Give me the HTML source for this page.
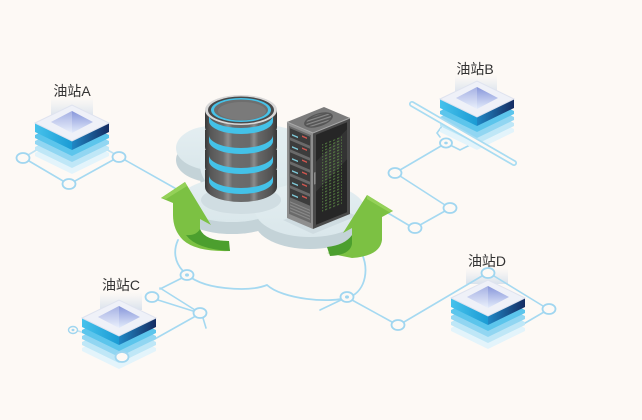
<!DOCTYPE html>
<html>
<head>
<meta charset="utf-8">
<style>
html,body{margin:0;padding:0;background:#fdf9f5;}
svg{display:block;}
</style>
</head>
<body>
<svg width="642" height="420" viewBox="0 0 642 420" xmlns="http://www.w3.org/2000/svg">
<defs>
  <linearGradient id="stL" x1="0" y1="0" x2="1" y2="0">
    <stop offset="0" stop-color="#46c2ec"/>
    <stop offset="1" stop-color="#1b9bd4"/>
  </linearGradient>
  <linearGradient id="stR" x1="0" y1="0" x2="1" y2="0">
    <stop offset="0" stop-color="#2088c6"/>
    <stop offset="1" stop-color="#152c62"/>
  </linearGradient>
  <linearGradient id="inner" x1="0" y1="0" x2="0" y2="1">
    <stop offset="0" stop-color="#8796da"/>
    <stop offset="1" stop-color="#e3ebfb"/>
  </linearGradient>
  <linearGradient id="lbg" x1="0" y1="0" x2="0" y2="1">
    <stop offset="0" stop-color="#e3e9f0" stop-opacity="0"/>
    <stop offset="1" stop-color="#d9e2ec" stop-opacity="1"/>
  </linearGradient>
  <linearGradient id="dbside" gradientUnits="userSpaceOnUse" x1="205" y1="0" x2="277" y2="0">
    <stop offset="0" stop-color="#383838"/>
    <stop offset="0.08" stop-color="#575757"/>
    <stop offset="0.25" stop-color="#6c6c6c"/>
    <stop offset="0.32" stop-color="#8e8e8e"/>
    <stop offset="0.38" stop-color="#6c6c6c"/>
    <stop offset="0.62" stop-color="#6a6a6a"/>
    <stop offset="0.68" stop-color="#8c8c8c"/>
    <stop offset="0.74" stop-color="#676767"/>
    <stop offset="0.92" stop-color="#525252"/>
    <stop offset="1" stop-color="#363636"/>
  </linearGradient>
  <linearGradient id="cloudTop" x1="0" y1="0" x2="0" y2="1">
    <stop offset="0" stop-color="#e4eef1"/>
    <stop offset="1" stop-color="#dae7eb"/>
  </linearGradient>
  <pattern id="gd" width="4" height="3" patternUnits="userSpaceOnUse">
    <rect width="2.2" height="1.3" fill="#6fb04f"/>
  </pattern>
  <pattern id="vent" width="3" height="3" patternUnits="userSpaceOnUse">
    <rect width="3" height="1.2" fill="#8a8a8a"/>
  </pattern>

  <g id="st">
    <!-- fading layers -->
    <polygon points="-37,30 0,12 37,30 37,33 0,51 -37,33" fill="#e3f4fb"/>
    <polygon points="-37,24 0,6 37,24 37,27 0,45 -37,27" fill="#bfe7f7"/>
    <polygon points="-37,18 0,0 37,18 37,21 0,39 -37,21" fill="#91d6f2"/>
    <polygon points="-37,12 0,-6 37,12 37,15 0,33 -37,15" fill="#5cc5ec"/>
    <!-- slab sides -->
    <polygon points="-37,0 0,18 0,27 -37,9" fill="url(#stL)"/>
    <polygon points="0,18 37,0 37,9 0,27" fill="url(#stR)"/>
    <!-- top face -->
    <polygon points="-37,0 0,-18 37,0 0,18" fill="#eff1f8"/>
    <polygon points="-37,0 0,-18 37,0 0,18" fill="none" stroke="#dfe3ef" stroke-width="1"/>
    <!-- inner diamond -->
    <polygon points="-21,-1 0,-12 21,-1 0,10" fill="url(#inner)"/>
    <polygon points="-21,-1 0,-12 0,10" fill="#ffffff" opacity="0.25"/>
  </g>
</defs>

<rect width="642" height="420" fill="#fdf9f5"/>

<!-- label backgrounds -->
<rect x="51" y="97" width="42" height="20" fill="url(#lbg)"/>
<rect x="455" y="75" width="42" height="18" fill="url(#lbg)"/>
<rect x="100" y="292" width="42" height="18" fill="url(#lbg)"/>
<rect x="466" y="268" width="42" height="16" fill="url(#lbg)"/>

<!-- network lines -->
<g stroke="#a5d9f1" stroke-width="1.6" fill="none" stroke-linecap="round">
  <!-- A -->
  <line x1="29" y1="161" x2="63" y2="181"/>
  <line x1="75" y1="181" x2="113" y2="160"/>
  <line x1="125" y1="160" x2="180" y2="191"/>
  <line x1="28" y1="155" x2="45" y2="145" opacity="0.7"/>
  <line x1="113" y1="153" x2="100" y2="146" opacity="0.7"/>
  <!-- cloud outline -->
  <path d="M178,240 C168,262 185,284 225,288 Q252,291 267,285 C282,299 330,304 350,297 C366,290 370,268 360,250" stroke-width="1.8"/>
  <!-- B -->
  <line x1="441" y1="146" x2="400" y2="170"/>
  <line x1="400" y1="176" x2="445" y2="205"/>
  <line x1="445" y1="211" x2="420" y2="225"/>
  <line x1="410" y1="226" x2="388" y2="213"/>
  <polyline points="442,126 437,133 440,137"/>
  <polyline points="452,146 460,150 472,144"/>
  <!-- C -->
  <line x1="182" y1="278" x2="160" y2="289"/>
  <line x1="160" y1="288" x2="195" y2="310"/>
  <line x1="203" y1="318" x2="206" y2="328"/>
  <line x1="158" y1="300" x2="193" y2="311"/>
  <line x1="194" y1="317" x2="128" y2="354"/>
  <line x1="78" y1="331" x2="92" y2="335" opacity="0.7"/>
  <!-- D -->
  <line x1="341" y1="300" x2="320" y2="310"/>
  <line x1="352" y1="300" x2="392" y2="322"/>
  <line x1="404" y1="322" x2="482" y2="276"/>
  <line x1="494" y1="276" x2="543" y2="306"/>
  <line x1="544" y1="312" x2="520" y2="326"/>
</g>

<!-- rings -->
<g stroke="#a0d6f0" stroke-width="1.8" fill="#fdf9f5">
  <ellipse cx="23" cy="158" rx="6.5" ry="5"/>
  <ellipse cx="69" cy="184" rx="6.5" ry="5"/>
  <ellipse cx="119" cy="157" rx="6.5" ry="5"/>
  <ellipse cx="395" cy="173" rx="6.5" ry="5"/>
  <ellipse cx="450" cy="208" rx="6.5" ry="5"/>
  <ellipse cx="415" cy="228" rx="6.5" ry="5"/>
  <ellipse cx="152" cy="297" rx="6.5" ry="5"/>
  <ellipse cx="200" cy="313" rx="6.5" ry="5"/>
  <ellipse cx="398" cy="325" rx="6.5" ry="5"/>
  <ellipse cx="549" cy="309" rx="6.5" ry="5"/>
  <ellipse cx="187" cy="275" rx="6.5" ry="5"/>
  <ellipse cx="347" cy="297" rx="6.5" ry="5"/>
  <ellipse cx="73" cy="330" rx="4.5" ry="3.5" stroke-width="1.4"/>
</g>
<g fill="#a0d6f0">
  <ellipse cx="187" cy="275" rx="2" ry="1.6"/>
  <ellipse cx="347" cy="297" rx="2" ry="1.6"/>
  <ellipse cx="73" cy="330" rx="1.5" ry="1.2"/>
</g>

<!-- stations -->
<use href="#st" transform="translate(72,123)"/>
<use href="#st" transform="translate(477,99)"/>
<use href="#st" transform="translate(119,318)"/>
<use href="#st" transform="translate(488,298)"/>

<!-- items drawn over stations -->
<g stroke-linecap="round" fill="none">
  <line x1="412" y1="104" x2="514" y2="163" stroke="#a8dcf2" stroke-width="6"/>
  <line x1="412" y1="104" x2="514" y2="163" stroke="#fdf9f5" stroke-width="2.6"/>
</g>
<g stroke="#a0d6f0" stroke-width="1.8" fill="#fdf9f5">
  <ellipse cx="446" cy="143" rx="6" ry="4.6"/>
  <ellipse cx="122" cy="357" rx="6.5" ry="5"/>
  <ellipse cx="488" cy="273" rx="6.5" ry="5"/>
</g>
<ellipse cx="446" cy="143" rx="1.8" ry="1.4" fill="#a0d6f0"/>

<!-- labels -->
<g font-family="'Liberation Sans','Noto Sans CJK SC',sans-serif" font-size="14" fill="#333" text-anchor="middle">
  <text x="72" y="96">油站A</text>
  <text x="475" y="74">油站B</text>
  <text x="121" y="290">油站C</text>
  <text x="487" y="266">油站D</text>
</g>

<!-- elevated cloud: extrusion -->
<g fill="#c4d3d8">
  <ellipse cx="212" cy="160" rx="36" ry="22"/>
  <ellipse cx="262" cy="177" rx="62" ry="40"/>
  <ellipse cx="232" cy="212" rx="52" ry="22"/>
  <ellipse cx="310" cy="222" rx="55" ry="27"/>
</g>
<!-- cloud top -->
<g fill="url(#cloudTop)">
  <ellipse cx="212" cy="148" rx="36" ry="22"/>
  <ellipse cx="262" cy="165" rx="62" ry="40"/>
  <ellipse cx="232" cy="200" rx="52" ry="22"/>
  <ellipse cx="310" cy="210" rx="55" ry="27"/>
</g>

<!-- shadows on cloud -->
<ellipse cx="241" cy="200" rx="40" ry="14" fill="#d0dde2"/>
<polygon points="283,220 313,234 357,216 330,205" fill="#cfdce1"/>

<!-- left green arrow -->
<path d="M161,198 L185,182 L211,225 L200,219 L200,230 Q201,240 228,241 L230,251 Q196,252 183,240 Q173,230 173,215 L173,203 Z" fill="#7cc143"/>
<path d="M186,235 Q196,249 230,251 L229,241 Q205,241 200,229 Q196,236 186,235 Z" fill="#4c9f2e"/>
<path d="M161,198 L185,182 L187,186 L166,199 Z" fill="#94d158"/>

<!-- right green arrow -->
<path d="M343,233 L367,195 L393,211 L382,217 L382,240 Q380,256 352,258 L327,253 Q350,250 352,242 L352,228 Z" fill="#7cc143"/>
<path d="M327,247 Q345,245 352,235 L352,244 Q350,255 330,256 Z" fill="#4c9f2e"/>
<path d="M367,195 L393,211 L389,212 L367,199 Z" fill="#94d158"/>

<!-- database -->
<g>
  <!-- disc 4 -->
  <ellipse cx="241" cy="170" rx="36" ry="15" fill="#d9d9d9"/>
  <path d="M205,170 L205,187 A36 15 0 0 0 277,187 L277,170 Z" fill="url(#dbside)"/>
  <path d="M209,175 A32 13 0 0 0 273,175 L273,181 A32 13 0 0 1 209,181 Z" fill="#44c2e8"/>
  <!-- disc 3 -->
  <ellipse cx="241" cy="150" rx="36" ry="15" fill="#d9d9d9"/>
  <path d="M205,150 L205,167 A36 15 0 0 0 277,167 L277,150 Z" fill="url(#dbside)"/>
  <path d="M209,155 A32 13 0 0 0 273,155 L273,161 A32 13 0 0 1 209,161 Z" fill="#44c2e8"/>
  <!-- disc 2 -->
  <ellipse cx="241" cy="130" rx="36" ry="15" fill="#d9d9d9"/>
  <path d="M205,130 L205,147 A36 15 0 0 0 277,147 L277,130 Z" fill="url(#dbside)"/>
  <path d="M209,135 A32 13 0 0 0 273,135 L273,141 A32 13 0 0 1 209,141 Z" fill="#44c2e8"/>
  <!-- disc 1 -->
  <path d="M205,110 L205,127 A36 15 0 0 0 277,127 L277,110 Z" fill="url(#dbside)"/>
  <path d="M209,115 A32 13 0 0 0 273,115 L273,121 A32 13 0 0 1 209,121 Z" fill="#44c2e8"/>
  <!-- top face -->
  <ellipse cx="241" cy="110" rx="36" ry="15" fill="#d8d8d8"/>
  <ellipse cx="241" cy="110" rx="33" ry="13.5" fill="#4a4a4a"/>
  <ellipse cx="241" cy="110" rx="30" ry="12" fill="#46c2e8"/>
  <ellipse cx="241" cy="110" rx="27" ry="10.5" fill="#6e6e6e"/>
  <ellipse cx="242" cy="111" rx="24" ry="9" fill="#7a7a7a"/>
</g>

<!-- server rack -->
<g>
  <!-- top -->
  <polygon points="287,122 313,133 350,118 324,107" fill="#7b7b7b"/>
  <ellipse cx="318.5" cy="120" rx="15" ry="6.5" fill="#565656" transform="rotate(-18 318.5 120)"/>
  <ellipse cx="318.5" cy="120" rx="13" ry="5.2" fill="url(#vent)" transform="rotate(-18 318.5 120)"/>
  <!-- left face -->
  <g transform="matrix(1,0.423,0,1,287,122)">
    <rect x="0" y="0" width="26" height="96" fill="#8e8e8e"/>
    <rect x="2" y="3" width="22" height="88" fill="#6a6a6a"/>
    <rect x="3" y="5" width="20" height="9" fill="#3c3c3c"/>
    <rect x="3" y="17" width="20" height="9" fill="#3c3c3c"/>
    <rect x="3" y="29" width="20" height="9" fill="#3c3c3c"/>
    <rect x="3" y="41" width="20" height="9" fill="#3c3c3c"/>
    <rect x="3" y="53" width="20" height="9" fill="#3c3c3c"/>
    <rect x="3" y="65" width="20" height="9" fill="#3c3c3c"/>
    <g fill="#d0564f">
      <rect x="15" y="7" width="5" height="1.5"/>
      <rect x="15" y="19" width="5" height="1.5"/>
      <rect x="15" y="31" width="5" height="1.5"/>
      <rect x="15" y="43" width="5" height="1.5"/>
      <rect x="15" y="55" width="5" height="1.5"/>
      <rect x="15" y="67" width="5" height="1.5"/>
    </g>
    <g fill="#7fc9d8">
      <rect x="5" y="10" width="6" height="1.5"/>
      <rect x="5" y="22" width="6" height="1.5"/>
      <rect x="5" y="34" width="6" height="1.5"/>
      <rect x="5" y="46" width="6" height="1.5"/>
      <rect x="5" y="58" width="6" height="1.5"/>
      <rect x="5" y="70" width="6" height="1.5"/>
    </g>
    <rect x="3" y="78" width="20" height="11" fill="url(#vent)"/>
  </g>
  <!-- right face -->
  <g transform="matrix(1,-0.405,0,1,313,133)">
    <rect x="0" y="0" width="37" height="96" fill="#4a4a4a"/>
    <rect x="3" y="3" width="31" height="90" fill="#262626"/>
    <polygon points="3,30 34,10 34,40 3,60" fill="#333333"/>
    <rect x="9" y="15" width="20" height="68" fill="url(#gd)" opacity="0.55"/>
    <rect x="1" y="40" width="1.5" height="12" fill="#8a8a8a"/>
  </g>
  <polyline points="287,122 313,133 350,118" fill="none" stroke="#a8a8a8" stroke-width="1"/>
</g>

</svg>
</body>
</html>
